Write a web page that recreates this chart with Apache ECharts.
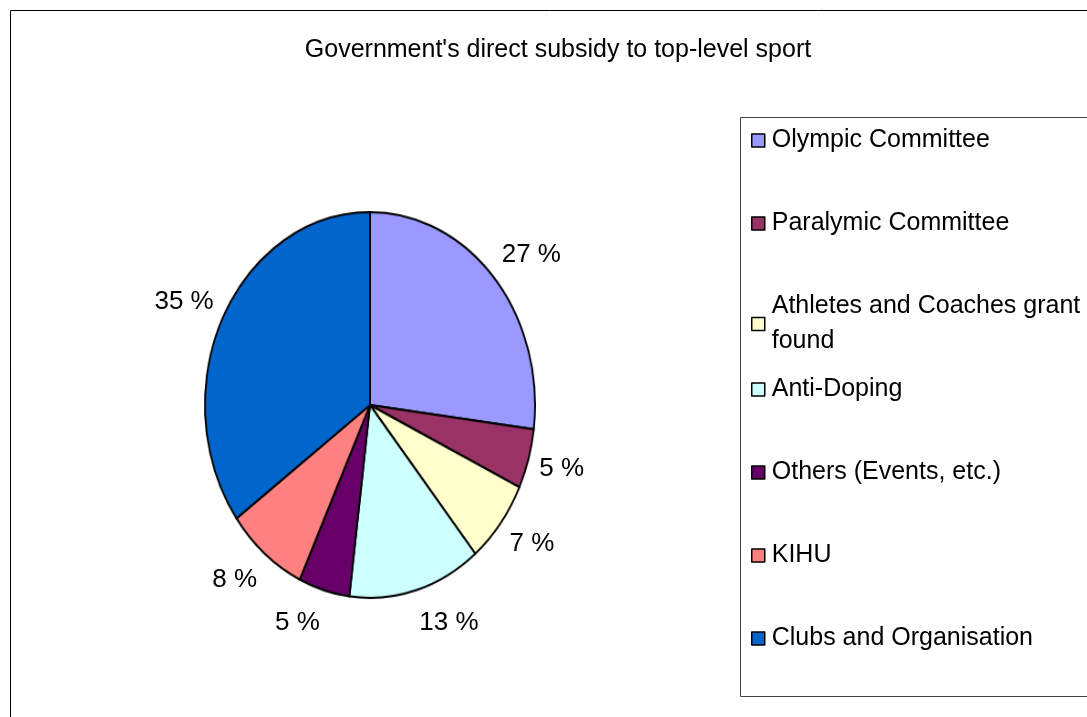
<!DOCTYPE html>
<html>
<head>
<meta charset="utf-8">
<script src="https://cdn.jsdelivr.net/npm/echarts@6/dist/echarts.min.js"></script>
<style>
html, body { margin: 0; padding: 0; background: #fff; }
.layer { position: absolute; left: 0; top: 0; width: 1087px; height: 717px; }
/* the original pie is an upright ellipse, not a circle */
#shape { transform: scale(0.912, 1.066); transform-origin: 370px 405px; }
</style>
</head>
<body>
<div id="shape" class="layer"></div>
<div id="pie" class="layer"></div>
<script>
// data
var categories = ['Olympic Committee', 'Paralymic Committee', 'Athletes and Coaches grant\nfound',
    'Anti-Doping', 'Others (Events, etc.)', 'KIHU', 'Clubs and Organisation'];
var shares = [27, 5, 7, 13, 5, 8, 35];
var colors = ['#9999FF', '#993366', '#FFFFCC', '#CCFFFF', '#660066', '#FF8080', '#0066CC'];

var font = '"Liberation Sans", Arial, sans-serif';
var cx = 370, cy = 405, R = 181;

// 饼图本体（被 CSS 压成椭圆）
var shapeChart = echarts.init(document.getElementById('shape'));
shapeChart.setOption({
    animation: false,
    series: [{
        type: 'pie',
        center: [cx, cy],
        radius: R,
        startAngle: 90,
        clockwise: true,
        label: { show: false },
        labelLine: { show: false },
        itemStyle: { borderColor: '#000', borderWidth: 2 },
        emphasis: { disabled: true },
        data: categories.map(function (name, i) {
            return { name: name, value: shares[i], itemStyle: { color: colors[i] } };
        })
    }]
});

// 标题、图例、百分比标签
var myChart = echarts.init(document.getElementById('pie'));

// one legend per item so the spacing stays even like in the original
var legends = categories.map(function (name, i) {
    return {
        orient: 'vertical',
        left: 746,
        top: 118 + i * 83,
        data: [{ name: name, itemStyle: { color: colors[i], borderColor: '#000', borderWidth: 1.5 } }],
        icon: 'rect',
        itemWidth: 13,
        itemHeight: 13,
        itemGap: 0,
        selectedMode: false,
        textStyle: {
            fontFamily: font,
            fontSize: 25,
            color: '#000',
            lineHeight: 35,
            padding: [0, 0, 0, 2]
        }
    };
});

var option = {
    animation: false,
    title: {
        text: "Government's direct subsidy to top-level sport",
        left: 553,
        top: 33,
        textAlign: 'center',
        textStyle: {
            fontFamily: font,
            fontSize: 25,
            fontWeight: 'normal',
            color: '#000'
        }
    },
    legend: legends,
    graphic: [
        { type: 'rect', shape: { x: 10.5, y: 10.5, width: 1100, height: 720 },
          style: { fill: 'none', stroke: '#000', lineWidth: 1 }, silent: true, z: -1 },
        { type: 'rect', shape: { x: 740.5, y: 117.5, width: 360, height: 579 },
          style: { fill: 'none', stroke: '#444', lineWidth: 1 }, silent: true, z: -1 }
    ],
    series: [{
        name: 'Subsidy',
        type: 'pie',
        center: [cx, cy],
        radius: R,
        startAngle: 90,
        clockwise: true,
        percentPrecision: 0,
        label: {
            show: true,
            position: 'outside',
            formatter: '{d} %',
            fontFamily: font,
            fontSize: 26,
            color: '#000'
        },
        labelLine: { show: false, length: 20, length2: 0 },
        // follow the ellipse: pull labels in sideways, push them out vertically
        labelLayout: function (p) {
            var r = p.labelRect;
            var mx = r.x + r.width / 2, my = r.y + r.height / 2;
            return { dx: (mx - cx) * -0.13, dy: (my - cy) * 0.13 };
        },
        itemStyle: { color: 'rgba(0,0,0,0)', borderWidth: 0 },
        emphasis: { disabled: true },
        data: categories.map(function (name, i) {
            return { name: name, value: shares[i] };
        })
    }]
};

myChart.setOption(option);
</script>
</body>
</html>
